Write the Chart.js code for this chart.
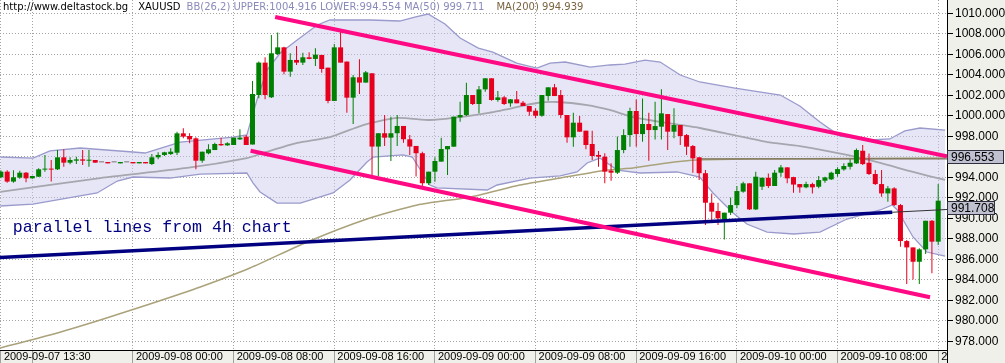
<!DOCTYPE html>
<html lang="en">
<head>
<meta charset="UTF-8">
<title>XAUUSD 30m</title>
<script src="https://cdn.jsdelivr.net/npm/chart.js"></script>
<style>
  html, body { margin: 0; padding: 0; background: #f0f0ea; }
</style>
</head>
<body>
<canvas id="myChart" width="1005" height="363"></canvas>

<script>
// 30 min candles, index 0 = 2009-09-07 13:30
const open = [
  994.0, 994.55, 993.58, 993.97, 994.45, 993.9, 994.06, 994.75, 994.81, 994.78,
  995.95, 995.43, 995.62, 995.75, 995.62, 995.69, 995.46, 995.49, 995.46, 995.36,
  995.46, 995.49, 995.36, 995.49, 995.3, 995.95, 996.18, 996.27, 996.4, 998.29,
  998.03, 997.8, 995.62, 996.34, 996.66, 997.25, 997.12, 997.15, 997.7, 997.97,
  997.2, 1002.03, 1005.19, 1001.81, 1006.03, 1006.68, 1004.31, 1005.45, 1005.19, 1005.71,
  1005.55, 1005.94, 1004.7, 1001.45, 1006.68, 1005.29, 1001.77, 1003.76, 1003.24, 1004.15,
  997.0, 998.3, 997.87, 998.3, 999.01, 997.71, 997.06, 996.35, 993.42, 994.55,
  995.53, 996.73, 996.99, 999.85, 1000.08, 1002.03, 1001.15, 1002.58, 1003.66, 1001.54,
  1001.8, 1001.22, 1001.61, 1001.28, 1000.96, 1000.5, 1000.01, 1001.93, 1002.78, 1002.03,
  1000.08, 997.9, 999.33, 998.55, 997.25, 996.18, 996.01, 994.65, 994.45, 996.66,
  998.12, 1000.47, 998.22, 999.2, 998.61, 998.94, 1000.17, 998.45, 999.1, 998.12,
  997.05, 995.95, 994.4, 991.52, 990.71, 989.9, 990.55, 991.29, 992.6, 993.41,
  990.87, 993.08, 993.96, 993.15, 994.45, 994.97, 994.02, 993.34, 993.02, 993.34,
  993.08, 993.67, 993.8, 994.32, 994.77, 995.03, 995.36, 996.59, 995.42, 994.32,
  993.34, 992.43, 992.92, 991.29, 987.78, 987.16, 985.76, 986.97, 989.76, 987.72
];
const high = [
  994.7, 994.7, 994.7, 994.65, 994.52, 994.16, 994.88, 996.18, 995.69, 996.66,
  996.73, 995.95, 996.01, 996.66, 996.66, 995.69, 995.46, 995.49, 995.46, 995.49,
  995.46, 995.49, 995.49, 995.49, 996.27, 996.44, 996.5, 996.83, 998.45, 998.78,
  998.29, 997.9, 996.5, 997.22, 997.38, 997.87, 997.41, 997.87, 998.68, 998.13,
  1003.4, 1005.29, 1005.71, 1007.89, 1008.12, 1006.75, 1006.1, 1006.81, 1006.16, 1006.2,
  1006.59, 1005.94, 1004.7, 1007.01, 1008.21, 1005.29, 1003.98, 1005.51, 1004.37, 1004.15,
  998.3, 1000.08, 999.92, 1000.08, 999.01, 998.13, 997.06, 996.5, 994.55, 995.95,
  997.87, 997.05, 999.92, 1001.38, 1003.23, 1002.03, 1002.91, 1003.66, 1003.66, 1002.42,
  1001.93, 1001.61, 1002.42, 1001.45, 1000.96, 1000.73, 1002.03, 1002.78, 1003.1, 1002.52,
  1000.08, 1000.31, 999.98, 998.55, 998.55, 996.57, 996.34, 995.36, 997.97, 998.68,
  1000.79, 1001.6, 1001.7, 1000.3, 1001.38, 1002.58, 1000.17, 1000.73, 999.1, 998.22,
  997.15, 995.95, 994.71, 992.43, 991.52, 990.55, 992.04, 993.15, 993.57, 993.41,
  994.55, 993.96, 994.38, 994.71, 995.2, 994.97, 994.06, 993.34, 993.57, 993.47,
  994.12, 994.06, 994.55, 994.97, 995.36, 995.75, 996.82, 997.15, 996.33, 994.71,
  994.71, 993.15, 993.02, 991.39, 987.88, 987.16, 987.07, 989.76, 989.83, 993.34
];
const low = [
  993.9, 993.48, 993.48, 993.87, 993.51, 993.87, 994.03, 994.55, 993.58, 994.71,
  995.04, 995.27, 995.3, 995.2, 995.04, 995.43, 995.46, 995.36, 995.46, 995.36,
  995.46, 995.36, 995.36, 995.36, 995.2, 995.75, 996.08, 996.18, 996.18, 997.8,
  997.32, 994.78, 995.43, 996.24, 996.66, 997.09, 997.09, 997.15, 997.64, 997.15,
  997.2, 1001.71, 1001.61, 1001.75, 1005.94, 1004.05, 1003.82, 1004.96, 1004.96, 1005.52,
  1004.86, 1004.21, 1001.22, 1001.45, 1005.19, 1000.31, 999.2, 1002.13, 1003.24, 994.23,
  994.13, 997.06, 995.6, 997.06, 997.38, 996.18, 994.07, 993.1, 993.25, 993.57,
  995.53, 994.22, 996.99, 999.43, 999.98, 1001.05, 1000.24, 1002.36, 1001.48, 1001.38,
  1001.05, 1000.89, 1001.22, 1000.96, 1000.01, 999.75, 999.92, 1001.48, 1001.93, 999.75,
  997.38, 996.99, 998.45, 996.73, 995.69, 995.04, 993.41, 993.67, 994.32, 996.34,
  996.99, 996.99, 997.47, 995.62, 997.7, 997.7, 996.66, 997.8, 997.15, 996.17,
  994.45, 993.73, 989.34, 989.77, 989.34, 987.94, 990.32, 990.97, 992.5, 990.8,
  990.8, 992.76, 992.95, 993.15, 994.06, 993.41, 992.5, 992.5, 992.92, 992.43,
  992.92, 993.47, 993.73, 994.06, 994.64, 994.77, 995.29, 995.2, 994.22, 993.24,
  992.11, 991.62, 991.2, 987.23, 983.59, 984.04, 983.59, 986.51, 984.63, 987.39
];
const close = [
  994.55, 993.58, 994.0, 994.45, 993.9, 994.13, 994.78, 994.81, 994.75, 995.95,
  995.43, 995.69, 995.75, 995.62, 995.69, 995.43, 995.46, 995.36, 995.46, 995.49,
  995.46, 995.36, 995.49, 995.36, 995.95, 996.18, 996.44, 996.5, 998.29, 997.97,
  997.7, 995.62, 996.5, 996.73, 997.25, 997.12, 997.32, 997.87, 997.87, 997.15,
  1002.13, 1005.19, 1002.03, 1006.1, 1006.68, 1004.31, 1005.45, 1005.19, 1005.71, 1005.55,
  1005.97, 1004.57, 1001.45, 1006.68, 1005.19, 1001.77, 1003.76, 1003.24, 1004.24, 997.0,
  998.3, 997.87, 998.3, 999.01, 997.71, 997.0, 996.35, 993.42, 994.55, 995.59,
  996.76, 997.05, 999.92, 1000.08, 1002.03, 1001.15, 1002.58, 1003.66, 1001.54, 1001.8,
  1001.15, 1001.61, 1001.22, 1000.96, 1000.4, 1000.01, 1002.03, 1002.78, 1001.93, 1000.08,
  997.9, 999.33, 998.45, 997.15, 996.08, 996.01, 994.55, 994.45, 996.66, 998.12,
  1000.47, 998.22, 999.2, 998.61, 999.0, 1000.24, 998.45, 999.1, 998.03, 996.99,
  995.85, 994.4, 991.52, 990.65, 990.0, 990.55, 991.29, 992.66, 993.41, 990.87,
  994.06, 993.96, 993.15, 994.45, 994.97, 993.9, 993.29, 993.02, 993.34, 993.02,
  993.73, 993.99, 994.45, 994.8, 995.1, 995.42, 996.66, 995.29, 994.32, 993.34,
  992.43, 992.92, 991.29, 987.78, 987.16, 985.76, 986.97, 989.76, 987.72, 991.72
];

// indicators, read at candle positions
const bbUpperIdx = [-0.1, 5.1, 7.8, 12.6, 21.0, 22.9, 28.5, 36.9, 39.1, 40.7, 42.3, 44.4, 47.1, 50.3, 52.3, 58.7, 63.4, 65.8, 67.9, 70.6, 73.0, 75.9, 78.2, 82.0, 85.2, 87.3, 89.7, 93.7, 96.8, 99.2, 102.4, 104.8, 108.0, 111.1, 116.7, 123.9, 127.0, 130.2, 133.4, 138.2, 141.3, 143.7, 146.1, 150.1];
const bbUpper = [995.98, 995.88, 996.57, 996.86, 996.47, 996.37, 997.44, 997.93, 998.13, 1001.54, 1004.47, 1006.13, 1007.4, 1008.86, 1009.35, 1009.35, 1009.25, 1009.64, 1009.93, 1008.96, 1007.59, 1006.61, 1006.22, 1005.15, 1004.66, 1005.15, 1005.25, 1004.76, 1004.96, 1005.05, 1005.44, 1005.25, 1003.98, 1003.3, 1002.71, 1002.03, 1000.96, 999.4, 998.03, 997.64, 997.74, 998.52, 998.81, 998.61];
const bbLowerIdx = [-0.1, 5.1, 15.3, 18.5, 21.0, 26.9, 31.7, 39.1, 40.1, 41.2, 43.9, 47.6, 52.8, 55.5, 58.2, 59.2, 63.9, 65.4, 67.0, 68.2, 69.3, 77.3, 78.9, 84.1, 88.9, 91.6, 93.2, 95.2, 98.0, 101.6, 107.5, 111.1, 113.2, 116.4, 118.6, 121.8, 126.0, 130.2, 134.5, 139.8, 141.7, 142.5, 145.0, 147.2, 150.1];
const bbLower = [991.2, 991.39, 992.47, 993.64, 994.03, 993.93, 994.32, 994.42, 993.44, 992.57, 991.49, 991.49, 992.47, 993.74, 995.49, 995.98, 996.18, 995.98, 994.42, 993.25, 992.96, 992.76, 993.25, 993.93, 994.13, 994.52, 995.4, 995.88, 994.71, 994.42, 994.52, 994.03, 992.47, 990.52, 989.44, 988.66, 988.47, 988.66, 989.93, 990.81, 991.3, 990.81, 988.18, 986.71, 986.32];
const ma50Idx = [-0.1, 15.8, 29.6, 39.1, 41.7, 47.1, 52.3, 57.6, 63.0, 68.2, 71.9, 77.3, 81.4, 85.2, 88.4, 93.2, 96.8, 100.5, 105.9, 111.1, 116.4, 121.8, 127.0, 134.5, 139.8, 145.0, 150.1];
const ma50 = [992.57, 993.93, 994.91, 995.88, 996.37, 997.35, 997.93, 999.1, 999.79, 999.59, 999.79, 1000.27, 1000.76, 1001.25, 1001.35, 1001.05, 1000.57, 999.88, 999.3, 998.81, 998.13, 997.44, 997.05, 996.18, 995.4, 994.52, 993.74];
const ma200Idx = [-0.1, 7.8, 15.8, 23.7, 31.7, 39.6, 48.7, 58.2, 66.2, 74.6, 82.5, 88.9, 96.4, 100.5, 105.9, 110.7, 119.1, 135.0, 150.1];
const ma200 = [977.35, 978.61, 980.08, 981.64, 983.3, 985.15, 987.69, 989.93, 991.3, 992.08, 993.25, 993.93, 994.71, 994.91, 995.4, 995.69, 995.79, 995.83, 995.88];

// drawn lines (start / end)
const levelIdx = [110.7, 150.4];
const level = [995.8, 995.8];
const chanUpIdx = [43.6, 150.4];
const chanUp = [1009.64, 996.04];
const chanLowIdx = [39.7, 147.7];
const chanLow = [996.59, 982.29];
const trendIdx = [-0.14, 141.7];
const trend = [986.18, 990.59];
const trendRayIdx = [141.7, 150.4];
const trendRay = [990.59, 990.86];

// axes
const xTickIdx = [0, 5, 21, 37, 53, 69, 85, 101, 117, 133, 149];
const xTickLabels = ['2009-09-07 13:30', '', '2009-09-08 00:00', '2009-09-08 08:00', '2009-09-08 16:00',
  '2009-09-09 00:00', '2009-09-09 08:00', '2009-09-09 16:00', '2009-09-10 00:00', '2009-09-10 08:00', '2009-09-10 16:00'];
const yTicks = [];
for (let v = 978; v <= 1010; v++) yTicks.push(v);

const markerLevels = [996.0, 991.05];
const markerTexts = ['996.553', '991.708'];
const titleParts = ['http://www.deltastock.bg', 'XAUUSD', 'BB(26,2) UPPER:1004.916 LOWER:994.554 MA(50) 999.711', 'MA(200) 994.939'];
const noteText = 'parallel lines from 4h chart';
</script>

<script>
const axisFont = "'Liberation Sans', Arial, sans-serif";
const panelBg = '#f0f0ea';
const pts = (xs, ys) => xs.map((x, i) => ({ x: x, y: ys[i] }));
const idx = open.map((_, i) => i);
const candleColor = idx.map(i => close[i] > open[i] ? '#008000' : close[i] < open[i] ? '#e6001e' : '#777777');

const framePlugin = {
    id: 'frame',
    beforeDraw(chart) {
        const { ctx, chartArea: a } = chart;
        ctx.save();
        ctx.fillStyle = panelBg;
        ctx.fillRect(0, 0, chart.width, chart.height);
        ctx.fillStyle = '#ffffff';
        ctx.fillRect(a.left, a.top, a.right - a.left, a.bottom - a.top);
        ctx.restore();
    },
    afterDraw(chart) {
        const { ctx, chartArea: a, scales } = chart;
        ctx.save();
        // last time label runs under the price panel
        ctx.fillStyle = panelBg;
        ctx.fillRect(a.right + 1, a.bottom + 1, chart.width, chart.height);
        ctx.strokeStyle = '#000';
        ctx.lineWidth = 1;
        ctx.beginPath();
        ctx.moveTo(Math.round(a.right) + 0.5, a.bottom);
        ctx.lineTo(Math.round(a.right) + 0.5, chart.height);
        ctx.stroke();

        // header
        const titleColors = ['#000000', '#000000', '#8a8abb', '#7a6440'];
        const titleGap = [10, 6, 12, 0];
        ctx.font = '10px "DejaVu Sans"';
        ctx.textBaseline = 'middle';
        let tx = 3;
        titleParts.forEach((t, i) => {
            ctx.fillStyle = titleColors[i];
            ctx.fillText(t, tx, 7);
            tx += ctx.measureText(t).width + titleGap[i];
        });

        // note
        ctx.font = '16.6px "Liberation Mono"';
        ctx.fillStyle = '#000080';
        ctx.fillText(noteText, scales.x.getPixelForValue(1.9), scales.y.getPixelForValue(989.05));

        // price boxes on the axis
        const boxW = [chart.width - a.right - 2, 47];
        ctx.font = '12px ' + axisFont;
        markerLevels.forEach((v, i) => {
            const y = Math.round(scales.y.getPixelForValue(v));
            ctx.fillStyle = '#bfc0d0';
            ctx.fillRect(a.right + 0.5, y - 6.5, boxW[i], 13);
            ctx.strokeStyle = '#303040';
            ctx.strokeRect(a.right + 0.5, y - 6.5, boxW[i], 13);
            ctx.fillStyle = '#000';
            ctx.fillText(markerTexts[i], a.right + 4, y + 0.5);
        });
        ctx.restore();
    }
};

const ctx = document.getElementById('myChart');

new Chart(ctx, {
    type: 'bar',
    data: {
        datasets: [
            {
                type: 'line', label: 'BB upper', data: pts(bbUpperIdx, bbUpper),
                borderColor: '#9a9acc', borderWidth: 1.3, pointRadius: 0, tension: 0,
                backgroundColor: 'rgba(200,200,235,0.45)', fill: '+1', order: 11
            },
            {
                type: 'line', label: 'BB lower', data: pts(bbLowerIdx, bbLower),
                borderColor: '#9a9acc', borderWidth: 1.3, pointRadius: 0, tension: 0, fill: false, order: 10
            },
            {
                type: 'line', label: 'MA200', data: pts(ma200Idx, ma200),
                borderColor: '#aaa27a', borderWidth: 1.5, pointRadius: 0, tension: 0.2, fill: false, order: 8
            },
            {
                type: 'line', label: 'MA50', data: pts(ma50Idx, ma50),
                borderColor: '#a6a6ae', borderWidth: 1.8, pointRadius: 0, tension: 0.2, fill: false, order: 8
            },
            {
                type: 'line', label: 'level', data: pts(levelIdx, level),
                borderColor: '#7a7058', borderWidth: 1.2, pointRadius: 0, fill: false, order: 7
            },
            {
                label: 'wick', data: idx.map(i => ({ x: i, y: [low[i], high[i]] })),
                backgroundColor: candleColor, borderWidth: 0, grouped: false,
                categoryPercentage: 1, barPercentage: 0.16, maxBarThickness: 1, order: 5
            },
            {
                label: 'body', data: idx.map(i => ({ x: i, y: [open[i], close[i]] })),
                backgroundColor: candleColor, borderWidth: 0, grouped: false,
                categoryPercentage: 1, barPercentage: 0.8, maxBarThickness: 5, minBarLength: 1, order: 4
            },
            {
                type: 'line', label: 'ray', data: pts(trendRayIdx, trendRay),
                borderColor: '#333333', borderWidth: 1, pointRadius: 0, fill: false, order: 3
            },
            {
                type: 'line', label: 'trend', data: pts(trendIdx, trend),
                borderColor: '#000080', borderWidth: 3.5, pointRadius: 0, fill: false, order: 2
            },
            {
                type: 'line', label: 'channel low', data: pts(chanLowIdx, chanLow),
                borderColor: '#ff0a84', borderWidth: 4, pointRadius: 0, fill: false, order: 1
            },
            {
                type: 'line', label: 'channel up', data: pts(chanUpIdx, chanUp),
                borderColor: '#ff0a84', borderWidth: 4, pointRadius: 0, fill: false, order: 1
            }
        ]
    },
    options: {
        responsive: false,
        animation: false,
        events: [],
        layout: { padding: 0, autoPadding: false },
        plugins: {
            legend: { display: false },
            tooltip: { enabled: false }
        },
        scales: {
            x: {
                type: 'linear',
                min: -0.14,
                max: 150.4,
                offset: false,
                afterBuildTicks: (s) => { s.ticks = xTickIdx.map(v => ({ value: v })); },
                afterFit: (s) => { s.height = 13; s.paddingLeft = 0; s.paddingRight = 0; },
                grid: { offset: false, color: '#a4a4a4', tickLength: 13, tickColor: '#a0a0a0' },
                border: { display: true, color: '#000000', dash: [1, 2] },
                ticks: {
                    autoSkip: false, maxRotation: 0, minRotation: 0,
                    align: 'start', labelOffset: 3, padding: -13,
                    color: '#000', font: { family: axisFont, size: 11 },
                    callback: (v, i) => xTickLabels[i]
                }
            },
            y: {
                position: 'right',
                min: 977.15,
                max: 1011.3,
                beginAtZero: false,
                afterBuildTicks: (s) => { s.ticks = yTicks.map(v => ({ value: v })); },
                afterFit: (s) => { s.width = 58; s.paddingTop = 0; s.paddingBottom = 0; },
                grid: {
                    color: (c) => (c.tick && c.tick.value % 2 === 0) ? '#a4a4a4' : 'rgba(0,0,0,0)',
                    tickLength: 6,
                    tickColor: '#000'
                },
                border: { display: true, color: '#000000', dash: [1, 2] },
                ticks: {
                    padding: 2, color: '#000', font: { family: axisFont, size: 12 },
                    callback: (v) => v % 2 === 0 ? v.toFixed(3) : ''
                }
            }
        }
    },
    plugins: [framePlugin]
});
</script>
</body>
</html>
